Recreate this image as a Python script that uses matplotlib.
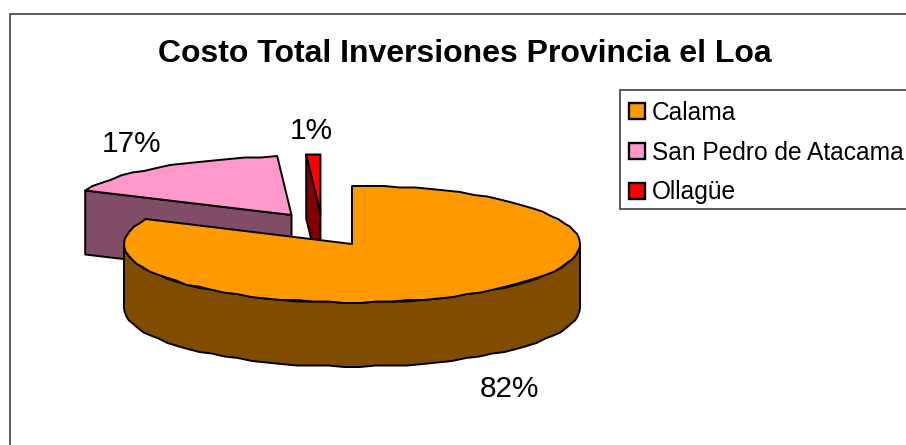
# -*- coding: utf-8 -*-
# Pastel 3D estilo Excel: Costo Total Inversiones Provincia el Loa
import numpy as np
import matplotlib
matplotlib.use("Agg")
import matplotlib.pyplot as plt
from matplotlib.patches import Polygon, Patch, Rectangle

plt.rcParams["font.family"] = ["Liberation Sans", "DejaVu Sans"]

# ---- datos ----
comunas = ["Calama", "San Pedro de Atacama", "Ollagüe"]
porcentajes = [82, 17, 1]
titulo = "Costo Total Inversiones Provincia el Loa"

# ---- estilo ----
colores = ["#FF9900", "#FF99CC", "#FF0000"]
colores_lado = ["#7F4C00", "#804C66", "#800000"]
desplazamiento = [(0, 0), (-60.5, -29), (-31.5, -30.5)]  # explosión de cada tajada
pos_etiquetas = [(509, 389), (131, 144), (311, 131)]
CX, CY, RX, RY, ALTO = 352, 244, 228, 58.5, 64
NEGRO = "#000000"

W, H = 906, 445
fig = plt.figure(figsize=(W / 100, H / 100), dpi=100, facecolor="white")
ax = fig.add_axes([0, 0, 1, 1])
ax.set_xlim(0, W); ax.set_ylim(H, 0); ax.axis("off")


def borde(a0, a1, dx=0, dy=0, paso=4.0):
    # puntos del borde elíptico, ángulo en grados horario desde las 12
    n = max(int(abs(a1 - a0) / paso), 1)
    ang = np.radians(np.linspace(a0, a1, n + 1))
    x = CX + dx + RX * np.sin(ang)
    y = CY + dy - RY * np.cos(ang)
    # el original tiene el borde levemente escalonado
    return np.column_stack([x, np.round(y / 1.5) * 1.5])


def poly(pts, color, z):
    ax.add_patch(Polygon(pts, closed=True, facecolor=color, edgecolor=NEGRO,
                         linewidth=1.4, joinstyle="round", zorder=z))


# marco exterior del gráfico (queda cortado por la derecha y abajo)
ax.add_patch(Rectangle((9.5, 14), 1000, 1000, facecolor="white", edgecolor="#404040",
                       linewidth=1.2, zorder=0))

# ángulos acumulados de las tajadas
acum = np.cumsum([0] + porcentajes) / sum(porcentajes) * 360

# San Pedro (atrás)
dx, dy = desplazamiento[1]
a0, a1 = acum[1], acum[2]
rim = borde(a0, a1, dx, dy)
centro = np.array([[CX + dx, CY + dy]])
izq = rim[0]
cara = np.array([izq, centro[0], centro[0] + [0, ALTO], izq + [0, ALTO]])
poly(cara, colores_lado[1], 2)
poly(np.vstack([centro, rim]), colores[1], 3)

# Ollagüe
dx, dy = desplazamiento[2]
a0, a1 = acum[2], acum[3]
rim = borde(a0, a1, dx, dy)
centro = np.array([[CX + dx, CY + dy]])
izq = rim[0]
cara = np.array([izq, centro[0], centro[0] + [0, ALTO], izq + [0, ALTO]])
poly(cara, colores_lado[2], 4)
poly(np.vstack([centro, rim]), colores[2], 5)

# Calama (adelante)
a0, a1 = acum[0], acum[1]
frente = borde(90, 270)
poly(np.vstack([frente, (frente + [0, ALTO])[::-1]]), colores_lado[0], 6)
poly(np.vstack([[[CX, CY]], borde(a0, a1)]), colores[0], 7)

# etiquetas de porcentaje
for p, (x, y) in zip(porcentajes, pos_etiquetas):
    ax.text(x, y, f"{p}%", fontsize=21.4, ha="center", va="center", color="black", zorder=10)

ax.text(465, 54, titulo, fontsize=23, fontweight="bold", ha="center", va="center",
        color="black", zorder=10)

# leyenda: el marco va aparte porque el texto no queda centrado en él
ax.add_patch(Rectangle((620, 90), 400, 119, facecolor="white", edgecolor="#404040",
                       linewidth=1.2, zorder=9))
handles = [Patch(facecolor=c, edgecolor=NEGRO, linewidth=1.7, label=n)
           for c, n in zip(colores, comunas)]
leg = ax.legend(handles=handles, loc="upper left", bbox_to_anchor=(620, 91.5),
                bbox_transform=ax.transData, borderaxespad=0, fontsize=17.65,
                frameon=False, handlelength=0.62, handleheight=0.62, handletextpad=0.31,
                labelspacing=0.64, borderpad=0.385)
leg.set_zorder(10)

fig.savefig("out.png", dpi=100, facecolor="white")
